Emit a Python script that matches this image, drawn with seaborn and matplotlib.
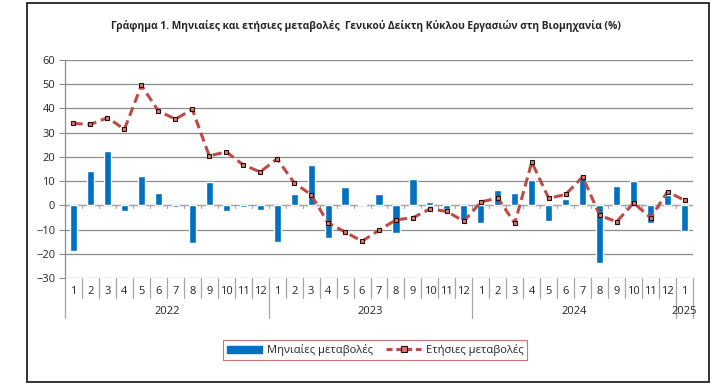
import numpy as np
import pandas as pd
import seaborn as sns
import matplotlib.pyplot as plt
from matplotlib.patches import Rectangle, Patch
from matplotlib.lines import Line2D
import matplotlib.transforms as mtransforms

# monthly and yearly changes (%), Jan 2022 - Jan 2025
years = ['2022', '2023', '2024', '2025']
months = [str(m) for m in range(1, 13)] * 3 + ['1']
monthly = [-18.8, 14.1, 22.3, -2.3, 12.1, 5.1, -0.5, -15.5, 9.7, -2.3, -0.5, -1.8,
           -15.1, 4.5, 16.8, -13.3, 7.5, 0.5, 4.5, -11.4, 10.8, 1.4, -1.5, -6.2,
           -7.5, 6.3, 5.1, 10.3, -6.3, 2.6, 11.6, -24.0, 7.9, 10.0, -7.3, 4.1,
           -10.4]
yearly = [33.8, 33.4, 36.2, 31.4, 49.5, 39.0, 35.6, 39.6, 20.4, 22.1, 16.7, 13.8,
          19.2, 9.3, 4.4, -7.3, -11.0, -14.8, -10.3, -6.0, -5.1, -1.5, -2.5, -6.6,
          1.4, 3.0, -7.4, 17.8, 2.9, 4.5, 11.8, -4.1, -6.8, 1.0, -5.1, 5.6,
          2.1]
year_sizes = [12, 12, 12, 1]

df = pd.DataFrame({'pos': np.arange(len(months)), 'monthly': monthly, 'yearly': yearly})

sns.set_style('white')
plt.rcParams['font.family'] = ['Open Sans', 'DejaVu Sans']

bar_color = '#0070C0'
line_color = '#BE4B48'
grid_color = '#8c8c8c'

fig = plt.figure(figsize=(7.16, 3.87), dpi=100)
ax = fig.add_axes([65 / 716, 1 - 278 / 387, (693 - 65) / 716, (278 - 60) / 387])

# bars and line
sns.barplot(data=df, x='pos', y='monthly', color=bar_color, saturation=1,
            width=0.42, native_scale=True, ax=ax, zorder=3)
sns.lineplot(data=df, x='pos', y='yearly', color=line_color, lw=2.2, ax=ax,
             marker='s', markersize=3.5, markerfacecolor='#D87A74',
             markeredgecolor='#2a0d0d', markeredgewidth=0.8, zorder=4)
ax.lines[-1].set_dashes((3, 1.6))

ax.set_xlim(-0.5, len(months) - 0.5)
ax.set_ylim(-30, 60)
ax.set_yticks(range(-30, 61, 10))
ax.yaxis.grid(True, color=grid_color, lw=0.9)
ax.set_axisbelow(True)
ax.set_xlabel('')
ax.set_ylabel('')
ax.set_xticks([])
ax.tick_params(axis='y', labelsize=8, length=4, color=grid_color, left=True, pad=3)
for s in ['top', 'right', 'bottom']:
    ax.spines[s].set_visible(False)
ax.spines['left'].set_color(grid_color)
ax.spines['left'].set_linewidth(0.9)

# zero axis with small tick marks
ax.axhline(0, color='#a6a6a6', lw=0.9, zorder=2)
for i in range(len(months) + 1):
    ax.plot([i - 0.5, i - 0.5], [0, -0.9], color='#a6a6a6', lw=0.8, zorder=2)

# category labels and separators below plot
trans = mtransforms.blended_transform_factory(ax.transData, ax.transAxes)
px = 1 / (278 - 60)
for i, m in enumerate(months):
    ax.text(i, -14 * px, m, transform=trans, ha='center', va='center', fontsize=8)
year_edges = np.cumsum([0] + year_sizes) - 0.5
for i in range(len(months) + 1):
    x = i - 0.5
    y1 = -40 * px if x in year_edges else -20 * px
    ax.plot([x, x], [0, y1], transform=trans, color='#a6a6a6', lw=0.9, clip_on=False)
for k, yr in enumerate(years):
    mid = (year_edges[k] + year_edges[k + 1]) / 2
    ax.text(mid, -34 * px, yr, transform=trans, ha='center', va='center', fontsize=8)

# title
fig.text(366 / 716, 1 - 26 / 387,
         'Γράφημα 1. Μηνιαίες και ετήσιες μεταβολές  Γενικού Δείκτη Κύκλου Εργασιών στη Βιομηχανία (%)',
         ha='center', va='center', fontsize=7.4, fontweight='bold')

# legend
handles = [Patch(color=bar_color),
           Line2D([], [], color=line_color, lw=2.2, dashes=(2, 1.2), marker='s', markersize=4,
                  markerfacecolor='#D87A74', markeredgecolor='#2a0d0d', markeredgewidth=0.8)]
leg = fig.legend(handles, ['Μηνιαίες μεταβολές', 'Ετήσιες μεταβολές'], ncol=2,
                 loc='center', bbox_to_anchor=(375 / 716, 1 - 350 / 387), fontsize=8,
                 frameon=True, fancybox=False, handlelength=3.2, handleheight=0.6,
                 columnspacing=1.2, handletextpad=0.4, borderpad=0.35)
leg.get_frame().set_edgecolor('#C0504D')
leg.get_frame().set_linewidth(0.8)

# outer frame
fig.patches.append(Rectangle((27 / 716, 1 - 382 / 387), (709 - 27) / 716, (382 - 3) / 387,
                             transform=fig.transFigure, fill=False, edgecolor='#222222', lw=1.3))

fig.savefig('out.png', dpi=100)
